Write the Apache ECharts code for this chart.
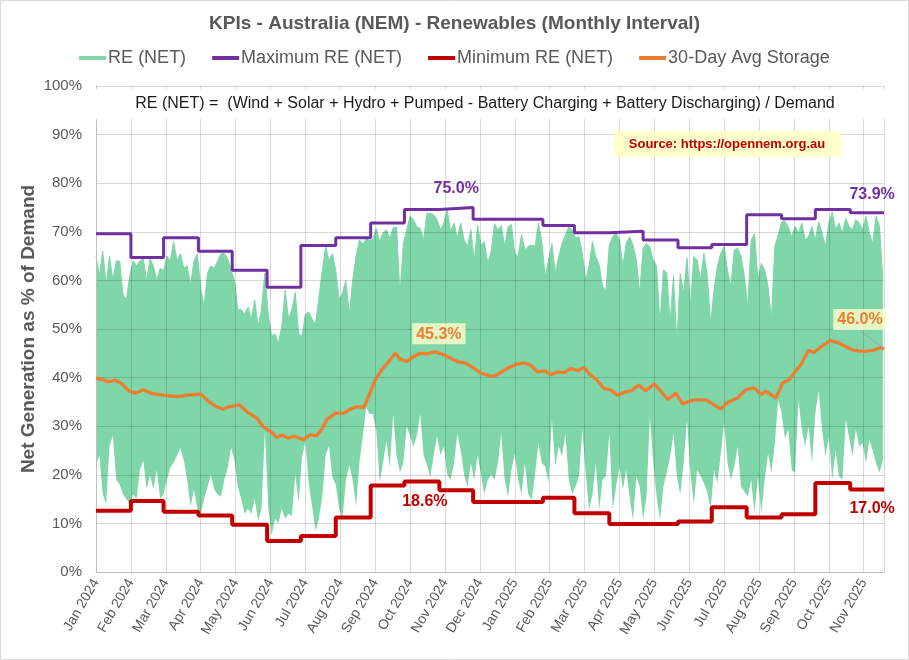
<!DOCTYPE html>
<html>
<head>
<meta charset="utf-8">
<title>KPIs - Australia (NEM) - Renewables</title>
<script src="https://cdn.jsdelivr.net/npm/echarts@6/dist/echarts.min.js"></script>
<style>
  html, body { margin: 0; padding: 0; background: #fff; }
  #chart { width: 909px; height: 660px; }
</style>
</head>
<body>
<div id="chart"></div>
<script>
// monthly max / min of RE (NET), %
const months = ['2024-01', '2024-02', '2024-03', '2024-04', '2024-05', '2024-06', '2024-07', '2024-08',
  '2024-09', '2024-10', '2024-11', '2024-12', '2025-01', '2025-02', '2025-03', '2025-04', '2025-05',
  '2025-06', '2025-07', '2025-08', '2025-09', '2025-10', '2025-11'];
const maxRE = [69.6, 64.7, 68.8, 66.0, 62.1, 58.6, 67.2, 68.8, 71.8, 74.6, 75.0, 72.6,
  72.6, 71.3, 69.8, 70.1, 68.3, 66.7, 67.4, 73.5, 72.7, 74.6, 73.9];
const minRE = [12.6, 14.6, 12.4, 11.6, 9.7, 6.4, 7.4, 11.2, 17.8, 18.6, 16.8, 14.4,
  14.4, 15.3, 12.1, 9.9, 9.9, 10.4, 13.3, 11.2, 11.9, 18.3, 17.0];

// RE (NET) envelope, one sample every 3 days from 1 Jan 2024
const reStep = 3;
const reHigh = [
  65, 61, 66, 59, 65, 60, 64, 64, 57, 56, 61, 64, 63, 64, 64.5, 60, 64.5, 63, 60, 62.5,
  62, 65, 64, 68, 64, 65.5, 62.5, 63, 59, 64, 65.5, 58.5, 54.5, 61.5, 63, 62.5, 64, 65.5, 65.5, 64.5,
  62, 60, 54, 54, 53, 54.5, 52, 56, 50.5, 54, 61.5, 53, 48.5, 49, 47, 50.5, 58, 52, 54,
  57.5, 49, 48.5, 53, 53.5, 52, 51, 56.5, 62, 67, 64, 65.5, 62, 56, 57.5, 60, 53, 60, 65, 68.3,
  67.5, 68.5, 68.2, 68.5, 70.7, 68, 69.8, 70.4, 68.7, 70.8, 71, 57, 67.5, 70.4, 73.2, 72.5, 71, 70.7, 68.3, 73.8,
  73.8, 73.5, 72.5, 70.4, 71.8, 74.5, 70.1, 71.8, 68.7, 71.8, 68.3, 67, 70.4, 63.9, 71.3, 67.3, 68, 63.5, 66,
  71.7, 70.4, 71.3, 67, 71, 71.5, 65.6, 64.9, 69.4, 66.3, 67, 67.3, 67, 71.8, 68, 60.8, 64.2, 67.6, 61.5, 64.9,
  67.6, 69.4, 71, 70.4, 68.7, 69, 65.6, 60, 63, 68, 64.9, 63.2, 58.7, 58, 67.3, 69, 69.8, 68.3, 62.9, 67.6,
  69, 67.3, 64.2, 57.3, 66.6, 67.6, 66.9, 64.2, 62.9, 51, 62.2, 61.5, 51.2, 61, 47, 61.5, 57.3, 64.6, 54.6, 64.9,
  64.2, 60.1, 65.6, 61, 51, 58, 62.9, 65.6, 67, 62, 58.7, 66.3, 66.6, 65, 60.8, 54.6, 68.3, 69.7, 60.1, 63.5,
  62.2, 58.7, 52, 66.9, 69.4, 72, 72.2, 71, 69, 71.1, 69.7, 71.8, 68.3, 69, 71.1, 68.3, 72.1, 69.7, 67, 71.8,
  74.1, 70.4, 71.8, 69.7, 72.8, 71.1, 70.4, 72.5, 71.8, 70.4, 73.2, 69.7, 67.6, 73.2, 71.1, 60
];
const reLow = [
  22, 24, 16, 14, 26, 28, 19, 18, 16, 15, 14, 16, 15, 21, 23, 17, 20, 17, 21, 15,
  16, 19, 21.5, 22.5, 24, 25.5, 23, 19, 13.5, 17, 13, 12, 15, 17.5, 20, 17, 16, 15.5, 19, 21.5,
  25.5, 23, 17.5, 15, 12, 13, 12, 15, 10.5, 13, 29, 13.5, 7.5, 11, 10, 13, 11, 12, 11.5,
  20, 14.5, 23.5, 27, 18, 13.5, 8.5, 11, 15.5, 24, 26, 19.5, 18, 13, 11, 19, 22, 19, 13.5, 22.5,
  28, 34, 32.5, 32.5, 29, 18.5, 22.5, 27, 21.5, 32.5, 24, 20.5, 22.5, 30, 28, 25.8, 28, 32.5, 24, 22,
  19.5, 24, 28, 24, 25.8, 20, 19, 22.4, 28.5, 25, 20, 17.5, 22.4, 19, 24, 20, 16, 19, 20,
  19, 22.4, 28.5, 19, 15.5, 21, 24.4, 19, 16, 22.4, 16, 14.8, 20, 26.5, 22.4, 21.7, 18.3, 31.4, 21.7, 25.8,
  23.8, 28.5, 19, 16, 17.6, 19.7, 29.3, 20.4, 12.8, 16, 22.4, 12.8, 19, 19.7, 28.5, 12.8, 17.6, 21.7, 16.9, 21,
  15.5, 10.7, 19.7, 17.6, 10.7, 15.5, 32, 22.4, 15.5, 10.7, 17.6, 20.4, 23.8, 28.5, 19.7, 16, 22.4, 31.4, 20.4, 14,
  21, 19.7, 18.3, 16.5, 12.8, 21, 18.3, 24.4, 30.7, 22.4, 19, 21.7, 25.8, 17.6, 16.5, 15.5, 19, 12.1, 19.7, 12.1,
  19, 24.4, 20.4, 26.5, 35.4, 32.7, 27.5, 29.3, 21, 20.4, 35.4, 29.3, 25.8, 30, 22.4, 32.7, 37.3, 29.3, 23.8, 27.8,
  19, 25, 19.7, 19, 31.4, 27.8, 23.8, 29.3, 25.8, 26.5, 22.4, 27.2, 25, 22.4, 20.4, 23
];

// 30-day average storage: days since 1 Jan 2024 / %
const storageDays = [0, 7, 11, 17, 23, 29, 35, 42, 50, 60, 72, 81, 93, 100, 107, 113, 118, 127, 134, 143,
  149, 155, 161, 165, 171, 176, 184, 190, 196, 201, 205, 213, 220, 226, 232, 238, 242, 248, 254, 260,
  266, 270, 276, 282, 288, 294, 301, 309, 315, 321, 328, 336, 342, 348, 353, 359, 367, 374, 380, 386,
  392, 399, 404, 410, 416, 422, 428, 433, 439, 445, 451, 457, 463, 470, 476, 482, 488, 496, 502, 508,
  515, 521, 527, 531, 542, 549, 555, 561, 570, 577, 585, 591, 595, 604, 610, 616, 620, 626, 633, 638,
  645, 652, 659, 666, 673, 682, 690, 696, 700];
const storageVals = [39.9, 39.5, 39.1, 39.5, 38.7, 37.3, 36.8, 37.5, 36.7, 36.4, 36.1, 36.4, 36.6, 35.1, 34.0, 33.5, 34.0, 34.4, 33.0, 31.6,
  29.8, 28.9, 27.7, 28.2, 27.5, 28.0, 27.2, 28.2, 28.0, 29.6, 31.4, 32.7, 32.7, 33.5, 34.0, 33.9, 36.1, 39.5, 41.7, 43.3,
  45.0, 43.8, 43.3, 44.3, 45.0, 44.9, 45.3, 44.7, 44.0, 43.3, 43.0, 41.9, 40.9, 40.5, 40.2, 41.0, 42.1, 42.8, 43.0, 42.6,
  41.2, 41.4, 40.6, 41.2, 41.0, 41.9, 41.4, 42.1, 40.6, 39.5, 37.8, 37.5, 36.4, 37.0, 37.3, 38.5, 37.3, 38.7, 37.1, 35.5,
  36.8, 34.6, 35.1, 35.4, 35.4, 34.4, 33.5, 34.9, 35.8, 37.5, 37.9, 36.5, 37.2, 35.8, 38.9, 39.6, 40.9, 42.6, 45.6, 45.2,
  46.5, 47.6, 47.2, 46.4, 45.6, 45.4, 45.6, 46.1, 46.0];

const monthNames = ['Jan', 'Feb', 'Mar', 'Apr', 'May', 'Jun', 'Jul', 'Aug', 'Sep', 'Oct', 'Nov', 'Dec'];

const GREEN = '#7FD6A8', PURPLE = '#7030A0', RED = '#C00000', ORANGE = '#ED7D31', GREY = '#595959';
const FONT = 'Liberation Sans, Arial, sans-serif';
const DAY = 86400000;
const t0 = Date.UTC(2024, 0, 1);
const dayOf = (ym) => (Date.UTC(+ym.slice(0, 4), +ym.slice(5) - 1, 1) - t0) / DAY;
const monthStart = months.map(dayOf);
const axisEnd = dayOf('2025-12');
const segMid = (i) => (monthStart[i] + (i + 1 < monthStart.length ? monthStart[i + 1] : axisEnd)) / 2;
const stepData = (vals) => vals.map((v, i) => [monthStart[i], v]).concat([[axisEnd, vals[vals.length - 1]]]);
const pct = (v) => v.toFixed(1) + '%';

const iMax = maxRE.indexOf(Math.max(...maxRE));
const iMinHi = minRE.indexOf(Math.max(...minRE));
const last = months.length - 1;

// highest storage value in 2024 and the latest one
let iSto = 0;
storageDays.forEach((d, i) => { if (d < 366 && storageVals[i] > storageVals[iSto]) iSto = i; });
const sLast = storageVals.length - 1;

const labelBase = { fontSize: 16, fontWeight: 'bold' };

const chart = echarts.init(document.getElementById('chart'));
chart.setOption({
  animation: false,
  backgroundColor: '#fff',
  textStyle: { fontFamily: FONT },
  title: {
    text: 'KPIs - Australia (NEM) - Renewables (Monthly Interval)',
    left: 'center', top: 9,
    textStyle: { fontSize: 19, fontWeight: 'bold', color: GREY }
  },
  legend: {
    top: 44, left: 'center',
    icon: 'rect', itemWidth: 27, itemHeight: 4, itemGap: 26,
    textStyle: { fontSize: 18, color: GREY, padding: [0, 0, 0, -3] },
    data: ['RE (NET)', 'Maximum RE (NET)', 'Minimum RE (NET)', '30-Day Avg Storage']
  },
  grid: { left: 96, right: 25, top: 86, bottom: 88, containLabel: false, outerBoundsMode: 'none' },
  xAxis: {
    type: 'value', min: 0, max: axisEnd, interval: 31, z: 2,
    axisLine: { show: true, lineStyle: { color: '#bfbfbf' } },
    axisTick: { show: false },
    splitLine: { show: true, lineStyle: { color: 'rgba(0,0,0,0.15)' } },
    axisLabel: {
      rotate: 60, fontSize: 14, color: GREY, margin: 8, showMaxLabel: false,
      formatter: (v) => { const d = new Date(t0 + v * DAY); return monthNames[d.getUTCMonth()] + ' ' + d.getUTCFullYear(); }
    }
  },
  yAxis: {
    type: 'value', min: 0, max: 100, interval: 10, z: 2,
    name: 'Net Generation as % of Demand', nameLocation: 'middle', nameGap: 58, nameMoveOverlap: false,
    nameTextStyle: { fontSize: 19, fontWeight: 'bold', color: GREY },
    axisLine: { show: true, lineStyle: { color: '#bfbfbf' } },
    axisTick: { show: false },
    splitLine: { show: true, lineStyle: { color: 'rgba(0,0,0,0.15)' } },
    axisLabel: { fontSize: 15, color: GREY, margin: 14, formatter: '{value}%' }
  },
  series: [
    {
      // upper envelope, filled down to the axis
      name: 'RE (NET)', type: 'line', z: 1, color: GREEN,
      symbol: 'none', lineStyle: { color: GREEN, width: 1 },
      areaStyle: { color: GREEN, opacity: 1, origin: 'start' },
      data: reHigh.map((v, i) => [i * reStep, v])
    },
    {
      // lower envelope, clears the fill below it
      name: 'reLow', type: 'line', z: 1, silent: true,
      symbol: 'none', lineStyle: { width: 0, opacity: 0 },
      areaStyle: { color: '#fff', opacity: 1, origin: 'start' },
      data: reLow.map((v, i) => [i * reStep, v])
    },
    {
      name: 'Maximum RE (NET)', type: 'line', step: 'end', z: 4, color: PURPLE,
      symbol: 'none', lineStyle: { color: PURPLE, width: 3 },
      data: stepData(maxRE),
      markPoint: {
        symbol: 'rect', symbolSize: 1, itemStyle: { color: 'rgba(0,0,0,0)' },
        label: Object.assign({ show: true, position: 'top', distance: 10, color: PURPLE, formatter: (p) => pct(p.value) }, labelBase),
        data: [
          { coord: [segMid(iMax), maxRE[iMax]], value: maxRE[iMax] },
          { coord: [segMid(last), maxRE[last]], value: maxRE[last], label: { offset: [5, 0] } }
        ]
      }
    },
    {
      name: 'Minimum RE (NET)', type: 'line', step: 'end', z: 4, color: RED,
      symbol: 'none', lineStyle: { color: RED, width: 4 },
      data: stepData(minRE),
      markPoint: {
        symbol: 'rect', symbolSize: 1, itemStyle: { color: 'rgba(0,0,0,0)' },
        label: Object.assign({ show: true, position: 'bottom', distance: 11, color: RED, formatter: (p) => pct(p.value) }, labelBase),
        data: [
          { coord: [segMid(iMinHi), minRE[iMinHi]], value: minRE[iMinHi], label: { offset: [3, 0] } },
          { coord: [segMid(last), minRE[last]], value: minRE[last], label: { offset: [5, 0] } }
        ]
      }
    },
    {
      name: '30-Day Avg Storage', type: 'line', z: 3, color: ORANGE,
      symbol: 'none', lineStyle: { color: ORANGE, width: 3.3 },
      data: storageDays.map((d, i) => [d, storageVals[i]]),
      markPoint: {
        symbol: 'rect', symbolSize: 1, itemStyle: { color: 'rgba(0,0,0,0)' },
        label: Object.assign({
          show: true, position: 'top', color: ORANGE, padding: [3, 4, 2, 4],
          backgroundColor: 'rgba(255,255,204,0.8)', formatter: (p) => pct(p.value)
        }, labelBase),
        data: [
          { coord: [storageDays[iSto], storageVals[iSto]], value: storageVals[iSto], label: { distance: 7, offset: [4, 0] } },
          { coord: [storageDays[sLast], storageVals[sLast]], value: storageVals[sLast], label: { distance: 18, offset: [-24, 0] } }
        ]
      },
      markLine: {
        silent: true, symbol: 'none', label: { show: false },
        lineStyle: { color: '#a6a6a6', width: 1, type: 'solid' },
        data: [[
          { coord: [storageDays[sLast] - 21, storageVals[sLast] + 3.6] },
          { coord: [storageDays[sLast], storageVals[sLast]] }
        ]]
      }
    }
  ],
  graphic: [
    { type: 'rect', silent: true, z: -1, shape: { x: 0.5, y: 0.5, width: 908, height: 659 },
      style: { fill: 'none', stroke: '#d9d9d9', lineWidth: 1 } },
    { type: 'rect', silent: true, z: 10, shape: { x: 94, y: 89, width: 792, height: 30 }, style: { fill: '#fff' } },
    { type: 'text', silent: true, z: 11, x: 485, y: 104,
      style: { text: 'RE (NET) =  (Wind + Solar + Hydro + Pumped - Battery Charging + Battery Discharging) / Demand',
        fontSize: 16, fontFamily: FONT, fill: '#1a1a1a', align: 'center', verticalAlign: 'middle' } },
    { type: 'rect', silent: true, z: 10, shape: { x: 614, y: 131, width: 227, height: 26 }, style: { fill: '#FFFFCC' } },
    { type: 'text', silent: true, z: 11, x: 727, y: 144,
      style: { text: 'Source: https://opennem.org.au', fontSize: 13, fontWeight: 'bold',
        fontFamily: FONT, fill: RED, align: 'center', verticalAlign: 'middle' } }
  ]
});
</script>
</body>
</html>
